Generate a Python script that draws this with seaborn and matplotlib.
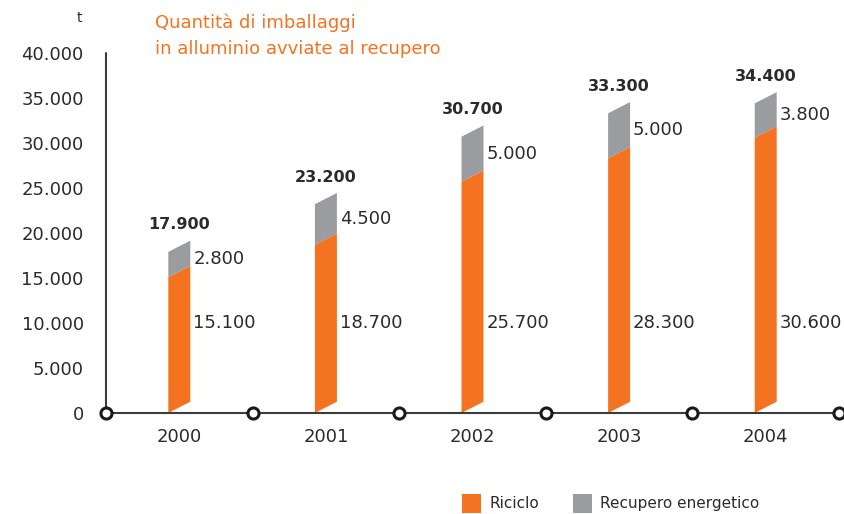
import matplotlib
matplotlib.use("Agg")
import matplotlib.pyplot as plt
from matplotlib.transforms import Affine2D
from matplotlib.patches import Patch
import seaborn as sns
import pandas as pd

years = ["2000", "2001", "2002", "2003", "2004"]
riciclo = [15100, 18700, 25700, 28300, 30600]
recupero = [2800, 4500, 5000, 5000, 3800]
totale = [17900, 23200, 30700, 33300, 34400]
yticks = [0, 5000, 10000, 15000, 20000, 25000, 30000, 35000, 40000]
ytick_labels = ["0", "5.000", "10.000", "15.000", "20.000", "25.000", "30.000", "35.000", "40.000"]
title = "Quantità di imballaggi\nin alluminio avviate al recupero"
unit = "t"
series_names = ["Riciclo", "Recupero energetico"]

ORANGE = "#F47321"
GRAY = "#9A9C9F"
TEXT = "#2b2b2b"
AXIS = "#3c3c3c"

def fmt(v):
    return f"{v:,}".replace(",", ".")

sns.set_theme(style="white")
plt.rcParams["font.family"] = ["DejaVu Sans"]

df = pd.DataFrame({"anno": years, "riciclo": riciclo, "recupero": recupero, "totale": totale})

fig = plt.figure(figsize=(8.44, 5.14), dpi=100)
ax = fig.add_axes([106 / 844, 101 / 514, 733 / 844, 360 / 514])

bar_w = 0.15
sns.barplot(data=df, x="anno", y="riciclo", color=ORANGE, width=bar_w, errorbar=None,
            saturation=1, linewidth=0, ax=ax)
sns.barplot(data=df, x="anno", y="recupero", bottom=df["riciclo"], color=GRAY, width=bar_w,
            errorbar=None, saturation=1, linewidth=0, ax=ax)

ax.set_xlim(-0.5, len(years) - 0.5)
ax.set_ylim(0, 40000)

# slanted (parallelogram) bars: right edge raised by `slant` data units
slant = 1250
k = slant / bar_w
for p in ax.patches:
    x0 = p.get_x()
    shear = Affine2D.from_values(1, k, 0, 1, 0, -k * x0)
    p.set_transform(shear + ax.transData)

for sp in ax.spines.values():
    sp.set_visible(False)

# axes lines
ax.plot([-0.5, -0.5], [0, 40000], color=AXIS, lw=1.5, clip_on=False, zorder=3)
ax.plot([-0.5, len(years) - 0.5], [0, 0], color=AXIS, lw=1.5, clip_on=False, zorder=3)
bounds = [i - 0.5 for i in range(len(years) + 1)]
ax.plot(bounds, [0] * len(bounds), linestyle="none", marker="o", ms=8, mfc="white",
        mec="#1a1a1a", mew=2.2, clip_on=False, zorder=4)

ax.set_yticks(yticks)
ax.set_yticklabels(ytick_labels, fontsize=13, color=TEXT)
ax.set_xticks(range(len(years)))
ax.set_xticklabels(years, fontsize=13, color=TEXT)
ax.tick_params(axis="y", length=0, pad=16)
ax.tick_params(axis="x", length=0, pad=11)
ax.set_xlabel("")
ax.set_ylabel("")
ax.grid(False)

for i in range(len(years)):
    xr = i + bar_w / 2 + 0.02
    ax.text(xr, riciclo[i] + recupero[i] / 2 + slant / 2, fmt(recupero[i]), ha="left", va="center",
            fontsize=13, color=TEXT)
    ax.text(xr, 10000, fmt(riciclo[i]), ha="left", va="center", fontsize=13, color=TEXT)
    ax.annotate(fmt(totale[i]), (i, totale[i] + slant), xytext=(0, 6), textcoords="offset points",
                ha="center", va="bottom", fontsize=11.5, fontweight="bold", color=TEXT)

fig.text(155 / 844, 1 - 14 / 514, title, ha="left", va="top", fontsize=13, color=ORANGE,
         linespacing=1.5)
fig.text(79 / 844, 1 - 18 / 514, unit, ha="center", va="center", fontsize=10, color=TEXT)

handles = [Patch(facecolor=ORANGE, edgecolor="none"), Patch(facecolor=GRAY, edgecolor="none")]
fig.legend(handles, series_names, loc="lower left", bbox_to_anchor=(454 / 844, -0.012), ncol=2,
           frameon=False, fontsize=11, handlelength=1.3, handleheight=1.5, handletextpad=0.5,
           columnspacing=2.2, borderpad=0, labelcolor=TEXT)

fig.savefig("out.png", dpi=100)
